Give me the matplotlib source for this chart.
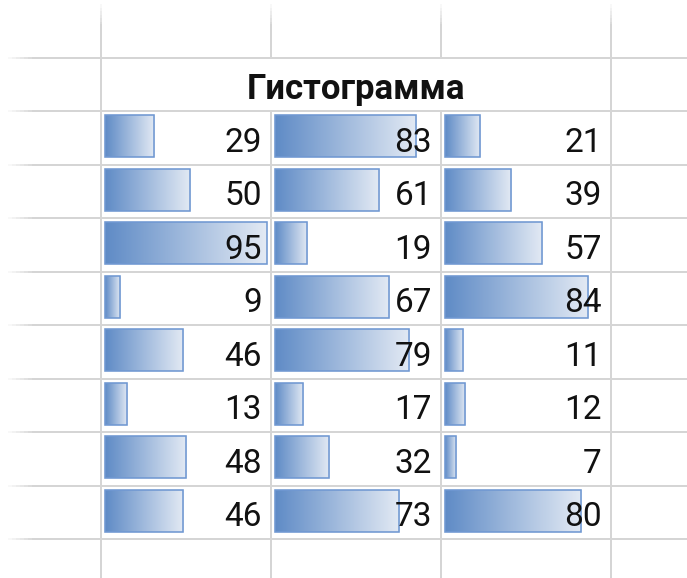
import numpy as np
import matplotlib
matplotlib.use("Agg")
import matplotlib.pyplot as plt
from matplotlib.patches import Rectangle
from matplotlib.colors import LinearSegmentedColormap
import matplotlib.transforms as mtrans

# ---- data ----
title = "Гистограмма"
col1 = [29, 50, 95, 9, 46, 13, 48, 46]
col2 = [83, 61, 19, 67, 79, 17, 32, 73]
col3 = [21, 39, 57, 84, 11, 12, 7, 80]
columns = [col1, col2, col3]

W, H = 687, 578
DPI = 100
fig = plt.figure(figsize=(W / DPI, H / DPI), dpi=DPI)
fig.patch.set_facecolor("white")

# background axes in pixel coordinates for the sheet grid
bg = fig.add_axes([0, 0, 1, 1])
bg.set_xlim(0, W)
bg.set_ylim(H, 0)
bg.axis("off")

grid_c = "#d5d5d5"
grid_lw = 2.0 * 72 / DPI
col_x = [101, 271, 441, 611]
row_top = 111
row_h = 53.5
n_rows = 8
title_top = 58
h_lines = [title_top] + [row_top + i * row_h for i in range(n_rows + 1)]

for y in h_lines:
    bg.plot([32, W], [y, y], color=grid_c, lw=grid_lw, solid_capstyle="butt")
    for k, a in enumerate(np.linspace(0.15, 0.85, 6)):
        x0 = 8 + k * 4
        bg.plot([x0, x0 + 4], [y, y], color=grid_c, lw=grid_lw, alpha=a,
                solid_capstyle="butt")

for j, x in enumerate(col_x):
    if j in (0, 3):
        segs = [(24, H)]
    else:
        segs = [(24, title_top), (row_top, H)]
    for s0, s1 in segs:
        bg.plot([x, x], [s0, s1], color=grid_c, lw=grid_lw, solid_capstyle="butt")
    for k, a in enumerate(np.linspace(0.15, 0.85, 6)):
        y0 = 4 + k * 3.5
        bg.plot([x, x], [y0, y0 + 3.5], color=grid_c, lw=grid_lw, alpha=a,
                solid_capstyle="butt")

# title (merged cell)
bg.text((col_x[0] + col_x[3]) / 2, 98.5, title, ha="center", va="baseline",
        fontsize=25, fontweight="bold", family="Roboto", color="#111111")

# ---- data bars ----
cmap = LinearSegmentedColormap.from_list("bar", ["#5f8bc6", "#e3eaf4"])
grad = np.linspace(0, 1, 256).reshape(1, -1)
px_per_unit = 162 / 95.0
cell_w = col_x[1] - col_x[0]
x_lo = -3.5 / px_per_unit
x_hi = x_lo + cell_w / px_per_unit
bar_h = 0.79

for j, vals in enumerate(columns):
    left = col_x[j] / W
    bottom = 1 - (row_top + n_rows * row_h) / H
    ax = fig.add_axes([left, bottom, cell_w / W, n_rows * row_h / H])
    ax.set_xlim(x_lo, x_hi)
    ax.set_ylim(n_rows - 0.5 + 0.03, -0.5 + 0.03)
    ax.axis("off")
    ax.patch.set_alpha(0)
    for i, v in enumerate(vals):
        y0 = i - bar_h / 2
        rect = Rectangle((0, y0), v, bar_h, facecolor="none",
                         edgecolor="#7098d2", lw=1.6 * 72 / DPI, zorder=3)
        ax.add_patch(rect)
        im = ax.imshow(grad, cmap=cmap, aspect="auto",
                       extent=(0, v, y0 + bar_h, y0), zorder=2,
                       interpolation="bilinear")
        im.set_clip_path(rect)
        trans = mtrans.blended_transform_factory(ax.transAxes, ax.transData)
        ax.text(1 - 9 / cell_w, i + 0.29, str(v), transform=trans,
                ha="right", va="baseline", fontsize=24, family="Roboto",
                color="#111111", zorder=4)
    ax.set_xlim(x_lo, x_hi)
    ax.set_ylim(n_rows - 0.5 + 0.03, -0.5 + 0.03)

fig.savefig("out.png", dpi=DPI, facecolor="white")
